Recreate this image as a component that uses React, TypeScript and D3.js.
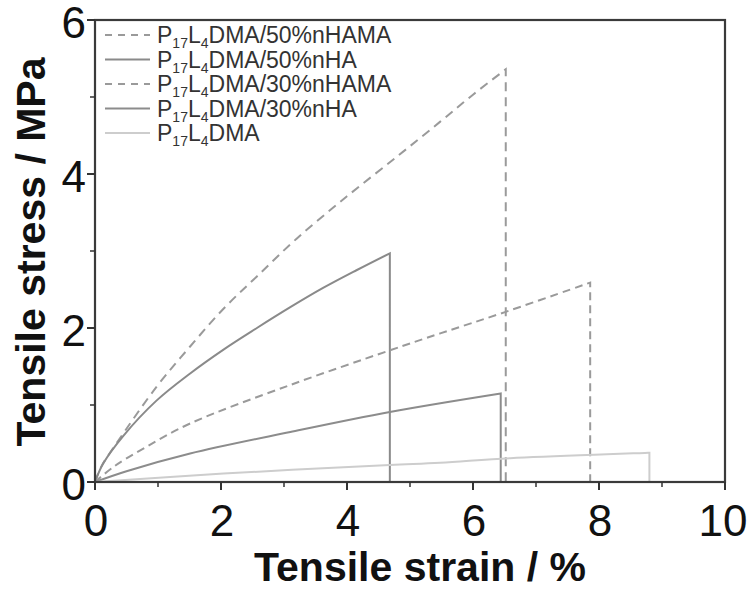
import React from "react";
import * as d3 from "d3";

// ---- data ----
const strain50HAMA = [0, 0.1, 0.34, 0.98, 1.51, 2.04, 2.57, 3.2, 4.0, 4.8, 5.48, 6.0, 6.52];
const stress50HAMA = [0, 0.2, 0.5, 1.24, 1.76, 2.25, 2.67, 3.16, 3.71, 4.23, 4.68, 5.03, 5.36];

const strain50HA = [0, 0.13, 0.45, 0.98, 1.51, 2.04, 2.57, 3.1, 3.62, 4.15, 4.68];
const stress50HA = [0, 0.24, 0.6, 1.06, 1.41, 1.72, 2.0, 2.27, 2.52, 2.75, 2.97];

const strain30HAMA = [0, 0.3, 0.8, 1.51, 3.1, 4.68, 5.48, 6.52, 7.86];
const stress30HAMA = [0, 0.2, 0.45, 0.76, 1.26, 1.71, 1.93, 2.21, 2.59];

const strain30HA = [0, 0.5, 1.51, 3.1, 4.68, 6.44];
const stress30HA = [0, 0.14, 0.37, 0.65, 0.91, 1.15];

const strainNeat = [0, 2.04, 4.68, 5.48, 6.59, 8.8];
const stressNeat = [0, 0.11, 0.22, 0.25, 0.31, 0.38];

const seriesNames = ["/50%nHAMA", "/50%nHA", "/30%nHAMA", "/30%nHA", ""];
const xTicks = [0, 2, 4, 6, 8, 10];
const yTicks = [0, 2, 4, 6];

const seriesStrain = [strain50HAMA, strain50HA, strain30HAMA, strain30HA, strainNeat];
const seriesStress = [stress50HAMA, stress50HA, stress30HAMA, stress30HA, stressNeat];
const seriesColors = ["#9a9a9a", "#8a8a8a", "#9a9a9a", "#8c8c8c", "#cdcdcd"];
const seriesDash = ["9,6", null, "8,5", null, null];

export default function App() {
  const W = 748;
  const H = 592;
  const x = d3.scaleLinear().domain([0, 10]).range([95, 725]);
  const y = d3.scaleLinear().domain([0, 6]).range([482, 20]);

  const lineGen = d3
    .line<[number, number]>()
    .x((d) => x(d[0]))
    .y((d) => y(d[1]))
    .curve(d3.curveCatmullRom.alpha(0.5));

  const xMinor = d3.range(1, 10, 2);
  const yMinor = d3.range(1, 6, 2);

  return (
    <svg
      width={W}
      height={H}
      style={{ position: "absolute", left: 0, top: 0, background: "#fff" }}
      fontFamily="Arial, 'Liberation Sans', sans-serif"
    >
      <rect x={0} y={0} width={W} height={H} fill="#fff" />
      {/* curves */}
      {seriesStrain.map((xs, i) => {
        const pts = xs.map((v, j) => [v, seriesStress[i][j]] as [number, number]);
        const last = xs[xs.length - 1];
        const d = lineGen(pts) + `L${x(last)},${y(0)}`;
        return (
          <path
            key={i}
            d={d}
            fill="none"
            stroke={seriesColors[i]}
            strokeWidth={2}
            strokeDasharray={seriesDash[i] || undefined}
          />
        );
      })}

      {/* frame */}
      <rect
        x={x(0)}
        y={y(6)}
        width={x(10) - x(0)}
        height={y(0) - y(6)}
        fill="none"
        stroke="#3a3a3a"
        strokeWidth={2.2}
      />

      {/* x ticks */}
      {xTicks.map((t) => (
        <g key={"xt" + t}>
          <line x1={x(t)} x2={x(t)} y1={y(0)} y2={y(0) + 8} stroke="#333" strokeWidth={2} />
          <text x={t === 10 ? x(t) - 2 : x(t) + 1} y={536} fontSize={44} textAnchor="middle" fill="#111">
            {t}
          </text>
        </g>
      ))}
      {xMinor.map((t) => (
        <line key={"xm" + t} x1={x(t)} x2={x(t)} y1={y(0)} y2={y(0) + 5} stroke="#333" strokeWidth={1.5} />
      ))}

      {/* y ticks */}
      {yTicks.map((t) => (
        <g key={"yt" + t}>
          <line x1={x(0) - 8} x2={x(0)} y1={y(t)} y2={y(t)} stroke="#333" strokeWidth={2} />
          <text x={86} y={y(t) + 17.5} fontSize={44} textAnchor="end" fill="#111">
            {t}
          </text>
        </g>
      ))}
      {yMinor.map((t) => (
        <line key={"ym" + t} x1={x(0) - 5} x2={x(0)} y1={y(t)} y2={y(t)} stroke="#333" strokeWidth={1.5} />
      ))}

      {/* axis titles */}
      <text x={420} y={581} fontSize={41} fontWeight="bold" textAnchor="middle" fill="#111">
        Tensile strain / %
      </text>
      <text
        transform={`translate(45,252) rotate(-90)`}
        fontSize={41}
        fontWeight="bold"
        textAnchor="middle"
        fill="#111"
      >
        Tensile stress / MPa
      </text>

      {/* legend */}
      {seriesNames.map((name, i) => {
        const ly = 35 + i * 24.5;
        return (
          <g key={"lg" + i}>
            <line
              x1={105}
              x2={150}
              y1={ly}
              y2={ly}
              stroke={seriesColors[i]}
              strokeWidth={2}
              strokeDasharray={seriesDash[i] ? "7,6" : undefined}
            />
            <text x={157} y={ly + 8} fontSize={23} fill="#333">
              <tspan>P</tspan>
              <tspan fontSize={14} dy={5}>17</tspan>
              <tspan dy={-5}>L</tspan>
              <tspan fontSize={14} dy={5}>4</tspan>
              <tspan dy={-5}>{"DMA" + name}</tspan>
            </text>
          </g>
        );
      })}
    </svg>
  );
}
